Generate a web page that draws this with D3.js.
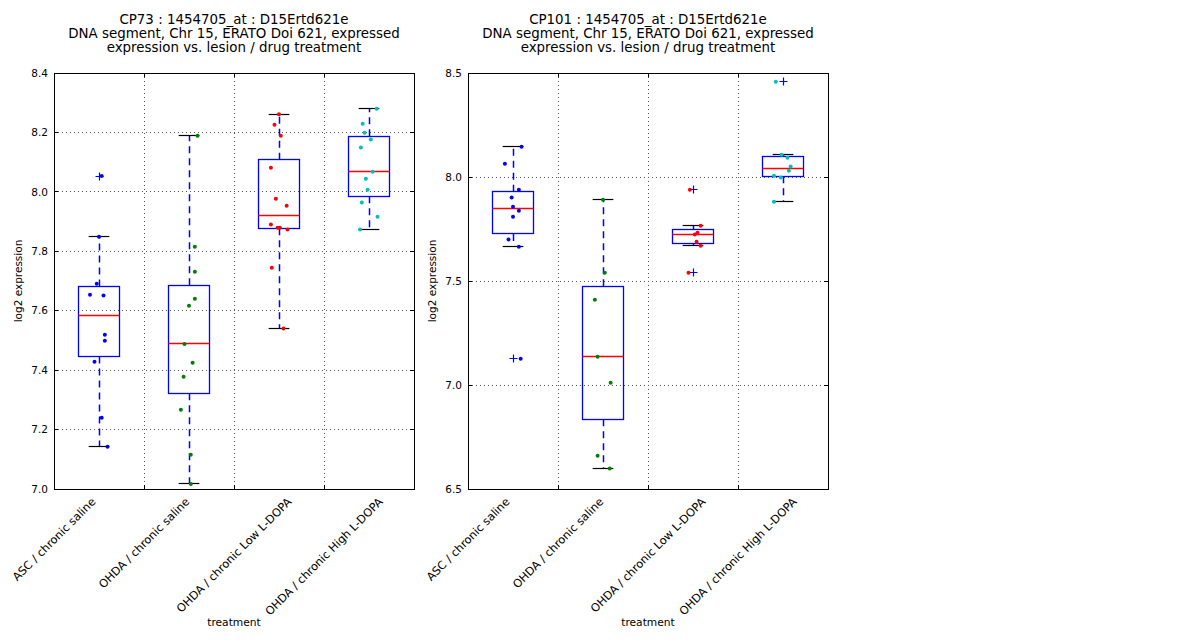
<!DOCTYPE html>
<html>
<head>
<meta charset="utf-8">
<script src="https://cdn.jsdelivr.net/npm/d3@7"></script>
<style>
  body { margin: 0; background: #fff; }
  text { font-family: "DejaVu Sans", sans-serif; fill: #000; }
</style>
</head>
<body>
<svg id="chart" width="1200" height="640"></svg>
<script>
// treatment groups
const categories = ["ASC / chronic saline", "OHDA / chronic saline",
                    "OHDA / chronic Low L-DOPA", "OHDA / chronic High L-DOPA"];
const pointColors = ["#0000ff", "#008000", "#ff0000", "#00bfbf"];

// CP73 values (log2 expression)
const cp73Asc  = [8.053, 7.849, 7.691, 7.654, 7.651, 7.519, 7.499, 7.428, 7.240, 7.142];
const cp73Sal  = [8.189, 7.815, 7.731, 7.640, 7.617, 7.488, 7.425, 7.378, 7.267, 7.115, 7.017];
const cp73Low  = [8.261, 8.226, 8.189, 8.081, 7.977, 7.953, 7.890, 7.879, 7.879, 7.873, 7.745, 7.540];
const cp73High = [8.280, 8.229, 8.199, 8.176, 8.149, 8.068, 8.044, 8.007, 7.964, 7.916, 7.873];
// horizontal jitter of each dot, in category widths
const cp73AscJit  = [0.03, 0.0, -0.025, -0.10, 0.05, 0.065, 0.065, -0.05, 0.03, 0.095];
const cp73SalJit  = [0.095, 0.065, 0.065, 0.065, 0.0, -0.05, 0.04, -0.06, -0.09, 0.02, 0.02];
const cp73LowJit  = [0.0, -0.05, 0.02, -0.09, -0.035, 0.085, -0.09, -0.015, 0.01, 0.095, -0.08, 0.05];
const cp73HighJit = [0.085, -0.07, -0.05, 0.02, -0.09, 0.04, -0.035, -0.015, -0.08, 0.095, -0.10];

// CP101 values
const cp101Asc  = [8.146, 8.064, 7.939, 7.901, 7.857, 7.838, 7.809, 7.699, 7.665, 7.126];
const cp101Sal  = [7.891, 7.540, 7.410, 7.136, 7.011, 6.660, 6.598];
const cp101Low  = [7.939, 7.766, 7.732, 7.723, 7.689, 7.670, 7.540];
const cp101High = [8.458, 8.107, 8.093, 8.050, 8.030, 8.006, 7.997, 7.881];
const cp101AscJit  = [0.095, -0.09, 0.065, -0.015, 0.0, 0.065, 0.0, -0.05, 0.065, 0.085];
const cp101SalJit  = [0.0, 0.02, -0.09, -0.06, 0.085, -0.06, 0.075];
const cp101LowJit  = [-0.035, 0.085, 0.05, 0.02, 0.04, 0.085, -0.05];
const cp101HighJit = [-0.08, -0.015, 0.05, 0.085, 0.065, -0.10, -0.025, -0.10];

const cp73Ticks  = [7.0, 7.2, 7.4, 7.6, 7.8, 8.0, 8.2, 8.4];
const cp101Ticks = [6.5, 7.0, 7.5, 8.0, 8.5];
// category labels sit on the half positions, like the original axis
const xTickPos = [0.5, 1.5, 2.5, 3.5];

const titleLines = ["DNA segment, Chr 15, ERATO Doi 621, expressed",
                    "expression vs. lesion / drug treatment"];

const svg = d3.select("#chart");

// put a 1px line on the pixel grid
function snap(v){ return Math.round(v - 0.5) + 0.5; }

function boxStats(vals){
    let s = vals.slice().sort(d3.ascending);
    let q1 = d3.quantile(s, 0.25), med = d3.quantile(s, 0.5), q3 = d3.quantile(s, 0.75);
    let iqr = q3 - q1;
    let lo = d3.min(s.filter(v => v >= q1 - 1.5 * iqr));
    let hi = d3.max(s.filter(v => v <= q3 + 1.5 * iqr));
    let fliers = s.filter(v => v < lo || v > hi);
    return {q1: q1, med: med, q3: q3, lo: lo, hi: hi, fliers: fliers};
}

function drawPanel(left, head, groups, jitters, domain, ticks, fmt){
    const top = 73, bottom = 489, width = 360;
    const g = svg.append("g");

    const x = d3.scaleLinear().domain([0.5, 4.5]).range([left, left + width]);
    const y = d3.scaleLinear().domain(domain).range([bottom, top]);
    const vTicks = xTickPos.slice(1);

    // grid
    g.selectAll(".hgrid").data(ticks.slice(1, -1)).enter().append("line")
        .attr("x1", left).attr("x2", left + width)
        .attr("y1", d => snap(y(d))).attr("y2", d => snap(y(d)))
        .style("stroke", "#555").style("stroke-width", 1)
        .style("stroke-dasharray", "1,3");
    g.selectAll(".vgrid").data(vTicks).enter().append("line")
        .attr("x1", d => snap(x(d))).attr("x2", d => snap(x(d)))
        .attr("y1", top).attr("y2", bottom)
        .style("stroke", "#555").style("stroke-width", 1)
        .style("stroke-dasharray", "1,3");

    // tick marks inside the frame
    ticks.forEach(function(t){
        g.append("line").attr("x1", left).attr("x2", left + 4)
            .attr("y1", snap(y(t))).attr("y2", snap(y(t))).style("stroke", "#000");
        g.append("line").attr("x1", left + width - 4).attr("x2", left + width)
            .attr("y1", snap(y(t))).attr("y2", snap(y(t))).style("stroke", "#000");
    });
    vTicks.forEach(function(t){
        g.append("line").attr("x1", snap(x(t))).attr("x2", snap(x(t)))
            .attr("y1", bottom).attr("y2", bottom - 4).style("stroke", "#000");
        g.append("line").attr("x1", snap(x(t))).attr("x2", snap(x(t)))
            .attr("y1", top).attr("y2", top + 4).style("stroke", "#000");
    });

    // y tick labels
    g.selectAll(".ylab").data(ticks).enter().append("text")
        .attr("x", left - 6).attr("y", d => y(d))
        .attr("dy", "0.35em")
        .attr("text-anchor", "end")
        .style("font-size", "10.5px")
        .text(d => d3.format(fmt)(d));

    const boxW = 0.45, capW = 0.115;
    groups.forEach(function(vals, i){
        let c = i + 1;
        let st = boxStats(vals);
        let cx = snap(x(c));
        // whiskers
        [[st.q3, st.hi], [st.q1, st.lo]].forEach(function(w){
            g.append("line")
                .attr("x1", cx).attr("x2", cx)
                .attr("y1", y(w[0])).attr("y2", y(w[1]))
                .style("stroke", "#0000ff").style("stroke-width", 1.5)
                .style("stroke-dasharray", "7,5");
            g.append("line")
                .attr("x1", x(c - capW)).attr("x2", x(c + capW))
                .attr("y1", snap(y(w[1]))).attr("y2", snap(y(w[1])))
                .style("stroke", "#000").style("stroke-width", 1.2);
        });
        // box
        let bx0 = snap(x(c - boxW / 2)), bx1 = snap(x(c + boxW / 2));
        let by0 = snap(y(st.q3)), by1 = snap(y(st.q1));
        g.append("rect")
            .attr("x", bx0).attr("width", bx1 - bx0)
            .attr("y", by0).attr("height", by1 - by0)
            .style("fill", "none").style("stroke", "#0000ff").style("stroke-width", 1.3);
        g.append("line")
            .attr("x1", bx0).attr("x2", bx1)
            .attr("y1", snap(y(st.med))).attr("y2", snap(y(st.med)))
            .style("stroke", "#ff0000").style("stroke-width", 1.5);
        // fliers
        st.fliers.forEach(function(f){
            let fy = snap(y(f));
            g.append("path")
                .attr("d", "M" + (cx - 4) + "," + fy + "h8M" + cx + "," + (fy - 4) + "v8")
                .style("stroke", "#0000ff").style("stroke-width", 1.2);
        });
        // dots
        g.selectAll(".dot" + i).data(vals).enter().append("circle")
            .attr("cx", (d, j) => x(c + jitters[i][j]))
            .attr("cy", d => y(d))
            .attr("r", 2)
            .style("fill", pointColors[i]);
    });

    // frame
    g.append("rect")
        .attr("x", left + 0.5).attr("y", top + 0.5).attr("width", width).attr("height", bottom - top)
        .style("fill", "none").style("stroke", "#000").style("stroke-width", 1);

    // x tick labels: rotated 45deg, bounding box centred on the tick
    const fs = 11.3;
    g.selectAll(".xlab").data(categories).enter().append("text")
        .attr("text-anchor", "end")
        .attr("dy", "0.35em")
        .style("font-size", fs + "px")
        .text(d => d)
        .each(function(d, i){
            let len = this.getComputedTextLength();
            let px = x(xTickPos[i]) + len * Math.SQRT1_2 / 2;
            let py = bottom + 6 + fs * 0.41;
            d3.select(this).attr("transform", "translate(" + px + "," + py + ") rotate(-45)");
        });

    g.append("text")
        .attr("x", left + width / 2).attr("y", 626)
        .attr("text-anchor", "middle")
        .style("font-size", "10.7px")
        .text("treatment");

    g.append("text")
        .attr("transform", "translate(" + (left - 32) + "," + ((top + bottom) / 2) + ") rotate(-90)")
        .attr("text-anchor", "middle")
        .style("font-size", "10.5px")
        .text("log2 expression");

    // title
    g.selectAll(".title").data([head].concat(titleLines)).enter().append("text")
        .attr("x", left + width / 2)
        .attr("y", (d, i) => 24 + i * 14)
        .attr("text-anchor", "middle")
        .style("font-size", "13.4px")
        .text(d => d);
}

drawPanel(54, "CP73 : 1454705_at : D15Ertd621e",
    [cp73Asc, cp73Sal, cp73Low, cp73High],
    [cp73AscJit, cp73SalJit, cp73LowJit, cp73HighJit],
    [7.0, 8.4], cp73Ticks, ".1f");

drawPanel(468, "CP101 : 1454705_at : D15Ertd621e",
    [cp101Asc, cp101Sal, cp101Low, cp101High],
    [cp101AscJit, cp101SalJit, cp101LowJit, cp101HighJit],
    [6.5, 8.5], cp101Ticks, ".1f");
</script>
</body>
</html>
